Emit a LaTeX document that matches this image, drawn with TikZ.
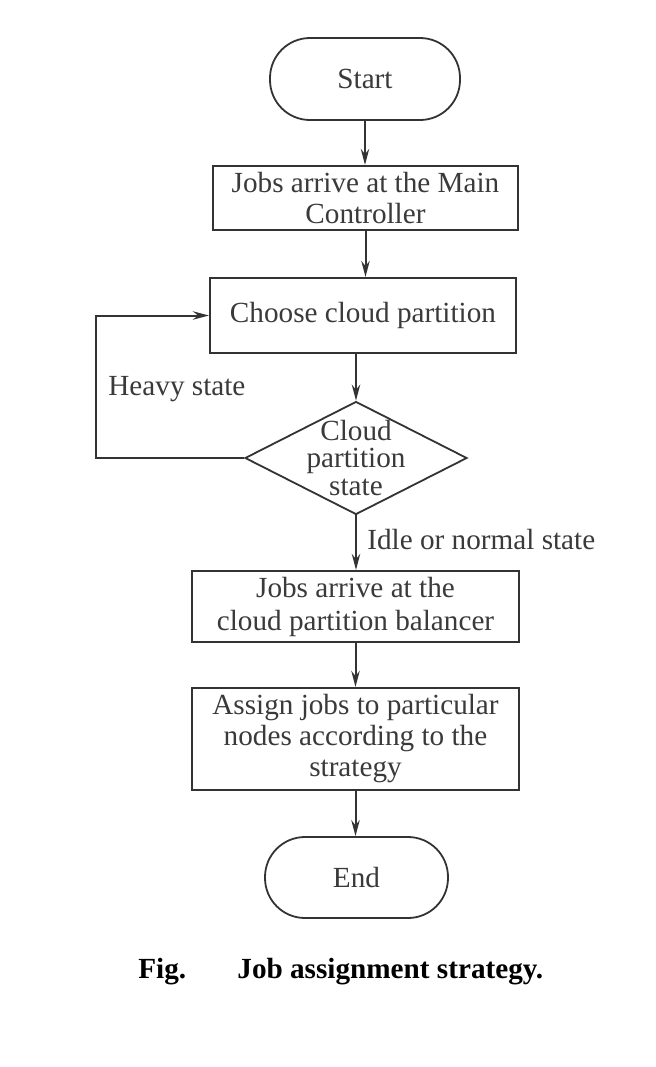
\documentclass[tikz,border=0pt]{standalone}
\usepackage{fontspec}
\setmainfont{Liberation Serif}
\usetikzlibrary{shapes.geometric,arrows.meta}
\definecolor{ln}{HTML}{333333}
\definecolor{tx}{HTML}{3A3A3A}
\begin{document}
\begin{tikzpicture}[x=0.5pt,y=-0.5pt,
  every node/.style={font=\fontsize{14.6}{15.5}\selectfont, text=tx, inner sep=0pt, align=center},
  boxnode/.style={draw=ln, line width=1.1pt, rectangle},
  termnode/.style={draw=ln, line width=0.9pt, rectangle, rounded corners=20pt},
  decnode/.style={draw=ln, line width=0.9pt, diamond, aspect=1.96, inner sep=-6pt,
     minimum width=111pt, minimum height=56.5pt},
  arr/.style={draw=ln, line width=1pt, -{Stealth[length=8pt,width=4.2pt]}},
  lbl/.style={anchor=base west}
]
\useasboundingbox (0,0) rectangle (655,1067);
\fill[white] (0,0) rectangle (655,1067);

\node[termnode, minimum width=95pt, minimum height=41pt] (start) at (365,79) {Start};
\node[boxnode, minimum width=152.5pt, minimum height=32pt] (b1) at (365.5,198) {Jobs arrive at the Main\\Controller};
\node[boxnode, minimum width=153pt, minimum height=37.5pt] (b2) at (363,315.5) {Choose cloud partition};
\node[decnode, font=\fontsize{14.6}{13.6}\selectfont] (dia) at (356,458) {Cloud\\partition\\state};
\node[boxnode, minimum width=163.5pt, minimum height=35.5pt, font=\fontsize{14.6}{16.5}\selectfont] (b3) at (355.5,606.5) {Jobs arrive at the\\cloud partition balancer};
\node[boxnode, minimum width=163.5pt, minimum height=51pt] (b4) at (355.5,739) {Assign jobs to particular\\nodes according to the\\strategy};
\node[termnode, minimum width=91.5pt, minimum height=40.5pt] (end) at (356.5,877.5) {End};

\draw[arr] (start.south) -- (start.south |- b1.north);
\draw[arr] (b1.south) -- (b1.south |- b2.north);
\draw[arr] (dia.north |- b2.south) -- (dia.north);
\draw[arr] (dia.south) -- (dia.south |- b3.north);
\draw[arr] (b3.south) -- (b3.south |- b4.north);
\draw[arr] (b4.south) -- (b4.south |- end.north);

\coordinate (lp) at (96,315.5);
\draw[arr] (dia.west) -| (lp) -- (b2.west);

\node[lbl] (heavy) at (108,395) {Heavy state};
\node[lbl] (idle) at (367,549) {Idle or normal state};

\node[lbl, text=black, font=\fontsize{14.6}{15.5}\selectfont\bfseries] (fig) at (138,978) {Fig.};
\node[lbl, text=black, font=\fontsize{14.6}{15.5}\selectfont\bfseries] (cap) at (237,978) {Job assignment strategy.};
\end{tikzpicture}
\end{document}
